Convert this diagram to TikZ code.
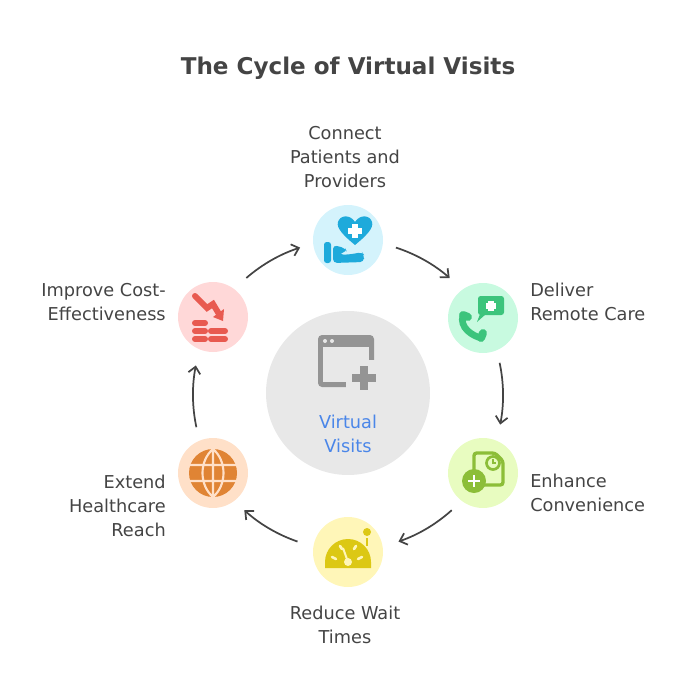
\documentclass[tikz,border=0pt]{standalone}
\usepackage{fontspec}
\setmainfont{DejaVu Sans}
\usetikzlibrary{arrows.meta,calc}
\definecolor{txt}{HTML}{444444}
\definecolor{ic1}{HTML}{1EAADB}
\definecolor{ic2}{HTML}{3CC47C}
\definecolor{ic3}{HTML}{8CBE38}
\definecolor{ic4}{HTML}{DCC814}
\definecolor{ic5}{HTML}{E08434}
\definecolor{ic6}{HTML}{E85A50}
\definecolor{b1}{HTML}{D4F3FC}
\definecolor{b2}{HTML}{C8FAE0}
\definecolor{b3}{HTML}{E8FCC0}
\definecolor{b4}{HTML}{FFF6B8}
\definecolor{b5}{HTML}{FFE0C8}
\definecolor{b6}{HTML}{FFD8D8}
\definecolor{vv}{HTML}{4A86E8}
\begin{document}
\begin{tikzpicture}[x=0.75pt,y=-0.75pt,
  lbl/.style={text=txt,font=\fontsize{13.3}{18}\selectfont,inner sep=0pt,align=center},
  cyc/.style={draw=txt,line width=1.3pt,-{Straight Barb[length=5pt,width=9pt]}},
  bub/.style={circle,minimum size=52.5pt,inner sep=0pt}]
\useasboundingbox (0,0) rectangle (684,696);
\node[text=txt,font=\fontsize{17.3}{20}\selectfont\bfseries] (title) at (348,68) {The Cycle of Virtual Visits};
\node[circle,fill=black!9,minimum size=123pt,inner sep=0pt] (c) at (348,393) {};
\node[bub,fill=b1] (n1) at (348,240) {};
\node[bub,fill=b2] (n2) at (483,318) {};
\node[bub,fill=b3] (n3) at (483,473) {};
\node[bub,fill=b4] (n4) at (348,552) {};
\node[bub,fill=b5] (n5) at (213,473) {};
\node[bub,fill=b6] (n6) at (213,317) {};
% arrows
\coordinate (o) at (348,395);
\foreach \a/\b in {72/49,12/-11,-48/-71,-109/-132,-168/-191,131/108}
  \draw[cyc] ($(o)+(\a:155 and -155)$) arc[start angle=\a,end angle=\b,x radius=155,y radius=-155];
% center icon
\begin{scope}[shift={(348,362)}]
 \fill[black!42,rounded corners=3pt] (-30,-27) rectangle (26,25);
 \fill[black!9] (-25,-15) rectangle (21,20);
 \fill[black!9] (-23,-21) circle (2); \fill[black!9] (-16,-21) circle (2);
 \fill[black!9] (-2,-2) rectangle (32,32);
 \fill[black!42] (4,12) rectangle (28,20); \fill[black!42] (12,4) rectangle (20,28);
\end{scope}
\node[lbl,text=vv] (ct) at (348,434) {Virtual\\Visits};
% icon 1 hand heart
\begin{scope}[shift={(348,240)}]
 \fill[ic1] (7,5) .. controls (-4,-4) and (-12,-12) .. (-10,-18) .. controls (-8,-25) and (2,-26) .. (7,-18) .. controls (12,-26) and (22,-25) .. (24,-18) .. controls (26,-12) and (18,-4) .. (7,5);
 \fill[white] (4,-16) rectangle (10,-2); \fill[white] (0,-12) rectangle (14,-6);
 \fill[ic1,rounded corners=2pt] (-24,2) rectangle (-17,23);
 \fill[ic1,rounded corners=3pt] (-15,5) -- (-3,8) -- (-1,12) -- (-9,13) -- (-8,15) -- (5,14) -- (14,12) -- (16,15) -- (16,22) -- (-15,23) -- cycle;
\end{scope}
% icon 2 phone + chat
\begin{scope}[shift={(483,318)}]
 \fill[ic2,rounded corners=2pt] (-5,-22) rectangle (21,-3);
 \fill[ic2] (-3,-4) -- (-6,4) -- (3,-4) -- cycle;
 \fill[white] (5,-17) rectangle (11,-7); \fill[white] (3,-15) rectangle (13,-9);
 \draw[ic2,line width=5pt,line cap=round] (-20,-3) .. controls (-24,10) and (-10,18) .. (-2,20);
 \draw[ic2,line width=6pt,line cap=round] (-20,-3) -- (-15,-1) (-2,20) -- (0,15);
\end{scope}
% icon 3 doc clock plus
\begin{scope}[shift={(483,473)}]
 \draw[ic3,line width=2.5pt,rounded corners=2pt] (-9,-3) -- (-9,-20) -- (12,-20) -- (20,-12) -- (20,12) -- (0,12);
 \draw[ic3,line width=2pt] (10,-10) circle (6.5);
 \draw[ic3,line width=1.5pt] (10,-14) -- (10,-10) -- (13,-10);
 \fill[ic3] (-9,8) circle (12);
 \fill[white] (-15,7) rectangle (-3,9); \fill[white] (-10,2) rectangle (-8,14);
\end{scope}
% icon 4 gauge
\begin{scope}[shift={(348,552)}]
 \fill[ic4] (-23,16) -- (-23,10) arc[start angle=180,end angle=360,radius=23] -- (23,16) -- cycle;
 \fill[b4] (0,10) circle (4); \draw[b4,line width=1.5pt] (0,10) -- (-5,-4);
 \draw[b4,line width=2pt,line cap=round] (-16,5) -- (-12,7) (14,5) -- (10,7) (-8,-6) -- (-6,-3) (8,-6) -- (6,-3);
 \fill[ic4] (19,-20) circle (4);
 \fill[ic4] (18,-14) rectangle (20,-6);
\end{scope}
% icon 5 globe
\begin{scope}[shift={(213,473)}]
 \fill[ic5] (0,0) circle (24);
 \draw[b5,line width=1.6pt] (0,-24) -- (0,24) (-24,-8) -- (24,-8) (-24,8) -- (24,8) (0,-24) .. controls (-14,-12) and (-14,12) .. (0,24) (0,-24) .. controls (14,-12) and (14,12) .. (0,24);
\end{scope}
% icon 6 cost down
\begin{scope}[shift={(213,317)}]
 \draw[ic6,line width=4.5pt,line cap=round] (-18,-21) -- (-6,-9) -- (0,-13) -- (6,-3);
 \fill[ic6] (0,0) -- (10,4) -- (11,-8) -- cycle;
 \draw[ic6,line width=4.5pt,line cap=round] (-18,6) -- (-8,6) (-18,14) -- (-8,14) (-2,14) -- (12,14) (-18,22)--(-8,22) (-2,22)--(12,22);
\end{scope}
% labels
\node[lbl] (l1) at (345,157) {Connect\\Patients and\\Providers};
\node[lbl,anchor=west,align=left] (l2) at (530,302) {Deliver\\Remote Care};
\node[lbl,anchor=west,align=left] (l3) at (530,493) {Enhance\\Convenience};
\node[lbl] (l4) at (345,625) {Reduce Wait\\Times};
\node[lbl,anchor=east,align=right] (l5) at (166,506) {Extend\\Healthcare\\Reach};
\node[lbl,anchor=east,align=right] (l6) at (166,302) {Improve Cost-\\Effectiveness};
\end{tikzpicture}
\end{document}
